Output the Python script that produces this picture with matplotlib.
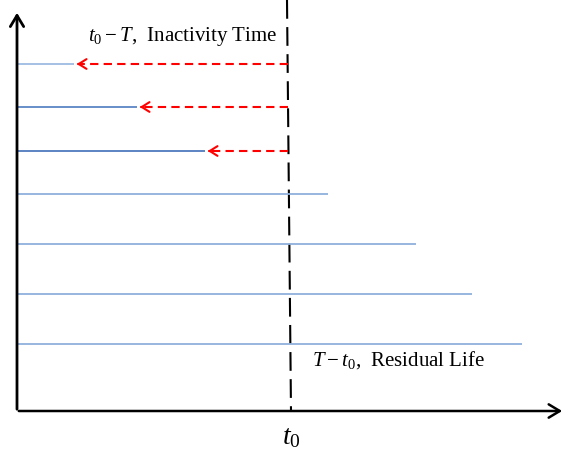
import matplotlib
matplotlib.use("Agg")
import matplotlib.pyplot as plt

# Pixel-space layout (x grows right, y grows down)
W, H = 566, 455
line_y = [64, 107, 151, 194, 244, 294, 344]
line_end = [74, 137, 205, 328, 416, 472, 522]
line_col = ["#9dbbe0", "#5b86c5", "#4f79bd", "#8fb0dc", "#8fb0dc", "#8fb0dc", "#8fb0dc"]
inactive = [True, True, True, False, False, False, False]
origin_x, origin_y = 17, 411
t0_top, t0_bottom = 287, 291

plt.rcParams["font.family"] = "Liberation Serif"
plt.rcParams["mathtext.fontset"] = "custom"
plt.rcParams["mathtext.rm"] = "Liberation Serif"
plt.rcParams["mathtext.it"] = "Liberation Serif:italic"

fig = plt.figure(figsize=(W / 100, H / 100), dpi=100)
ax = fig.add_axes([0, 0, 1, 1])
ax.set_xlim(0, W)
ax.set_ylim(H, 0)
ax.axis("off")

# axes arrows
ax.annotate("", xy=(origin_x, 10), xytext=(origin_x, origin_y + 1),
            arrowprops=dict(arrowstyle="->,head_length=0.5,head_width=0.3", color="black",
                            lw=2, mutation_scale=16))
ax.annotate("", xy=(565, origin_y), xytext=(origin_x - 1, origin_y),
            arrowprops=dict(arrowstyle="->,head_length=0.5,head_width=0.3", color="black",
                            lw=1.8, mutation_scale=16))

# t0 dashed line
ax.plot([t0_top, t0_bottom], [0, origin_y], color="black", lw=1.5, dashes=(9, 4))

# lifetimes
for y, xe, c, ina in zip(line_y, line_end, line_col, inactive):
    ax.plot([origin_x + 1, xe], [y, y], color=c, lw=1.3, solid_capstyle="butt")
    if ina:
        xd = t0_top + (t0_bottom - t0_top) * y / origin_y
        ax.plot([xd, xe + 4], [y, y], color="red", lw=1.5, dashes=(4, 2.5))
        ax.annotate("", xy=(xe, y), xytext=(xe + 8, y),
                    arrowprops=dict(arrowstyle="->,head_length=0.4,head_width=0.25",
                                    color="red", lw=1.5, mutation_scale=14))

ax.text(88, 36, r"$t_{0}-T$,  Inactivity Time", fontsize=15, va="center", ha="left")
ax.text(312, 360, r"$T-t_{0}$,  Residual Life", fontsize=15, va="center", ha="left")
ax.text(282, 438, r"$t_{0}$", fontsize=20, va="center", ha="left")

fig.savefig("out.png", dpi=100)
